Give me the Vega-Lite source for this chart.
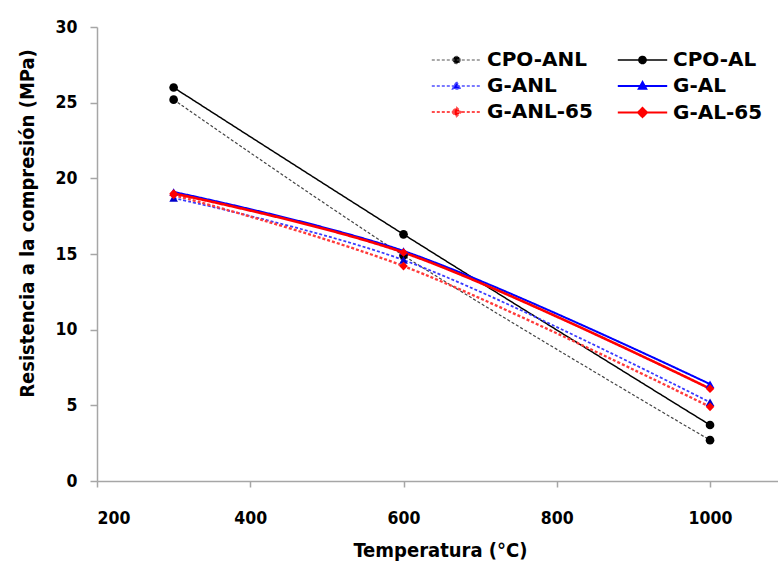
{
  "$schema": "https://vega.github.io/schema/vega-lite/v6.json",
  "autosize": {"type": "none"},
  "padding": {"left": 97, "top": 27, "right": 0, "bottom": 83},
  "width": 681,
  "height": 454,
  "background": "white",
  "config": {
    "view": {"stroke": null},
    "font": "DejaVu Sans Condensed, Liberation Sans, sans-serif",
    "axis": {
      "grid": false,
      "domainColor": "#a6a6a6",
      "tickColor": "#a6a6a6",
      "domainWidth": 1.5,
      "tickWidth": 1.5,
      "labelFont": "DejaVu Sans Condensed, Liberation Sans, sans-serif",
      "labelFontWeight": "bold",
      "labelFontSize": 17.5,
      "labelColor": "black",
      "titleFont": "DejaVu Sans Condensed, Liberation Sans, sans-serif",
      "titleFontWeight": "bold",
      "titleColor": "black"
    }
  },
  "data": {
    "values": [
      {"serie": "CPO-ANL", "t": 300, "r": 25.2},
      {"serie": "CPO-ANL", "t": 600, "r": 14.9},
      {"serie": "CPO-ANL", "t": 1000, "r": 2.7},
      {"serie": "CPO-AL", "t": 300, "r": 26.0},
      {"serie": "CPO-AL", "t": 600, "r": 16.3},
      {"serie": "CPO-AL", "t": 1000, "r": 3.7},
      {"serie": "G-ANL", "t": 300, "r": 18.7},
      {"serie": "G-ANL", "t": 600, "r": 14.6},
      {"serie": "G-ANL", "t": 1000, "r": 5.2},
      {"serie": "G-AL", "t": 300, "r": 19.1},
      {"serie": "G-AL", "t": 600, "r": 15.2},
      {"serie": "G-AL", "t": 1000, "r": 6.4},
      {"serie": "G-ANL-65", "t": 300, "r": 18.9},
      {"serie": "G-ANL-65", "t": 600, "r": 14.2},
      {"serie": "G-ANL-65", "t": 1000, "r": 4.9},
      {"serie": "G-AL-65", "t": 300, "r": 19.0},
      {"serie": "G-AL-65", "t": 600, "r": 15.1},
      {"serie": "G-AL-65", "t": 1000, "r": 6.1}
    ]
  },
  "encoding": {
    "x": {
      "field": "t", "type": "quantitative",
      "scale": {"domain": [200, 1088.7], "nice": false, "zero": false},
      "axis": {
        "values": [200, 400, 600, 800, 1000],
        "format": "d",
        "tickSize": 6,
        "labelPadding": 22,
        "title": "Temperatura (°C)",
        "titleFontSize": 20,
        "titleX": 343,
        "titleY": 59,
        "titleAlign": "center",
        "titleBaseline": "top",
        "titleAnchor": null
      }
    },
    "y": {
      "field": "r", "type": "quantitative",
      "scale": {"domain": [0, 30], "nice": false},
      "axis": {
        "values": [0, 5, 10, 15, 20, 25, 30],
        "tickSize": 7,
        "labelPadding": 13,
        "title": "Resistencia a la compresión (MPa)",
        "titleFontSize": 20,
        "titleX": -70,
        "titleY": 196,
        "titleAlign": "center",
        "titleBaseline": "middle",
        "titleAnchor": null
      }
    }
  },
  "layer": [
    {
      "mark": {"type": "line", "interpolate": "catmull-rom"},
      "encoding": {
        "color": {
          "field": "serie", "type": "nominal", "legend": null,
          "scale": {"domain": ["CPO-ANL", "CPO-AL", "G-ANL", "G-AL", "G-ANL-65", "G-AL-65"],
                    "range": ["#444444", "#000000", "#3a3aff", "#0000ff", "#ff3a3a", "#ff0000"]}
        },
        "strokeDash": {
          "field": "serie", "type": "nominal", "legend": null,
          "scale": {"domain": ["CPO-ANL", "CPO-AL", "G-ANL", "G-AL", "G-ANL-65", "G-AL-65"],
                    "range": [[3, 2], [1, 0], [3, 2], [1, 0], [3, 2], [1, 0]]}
        },
        "strokeWidth": {
          "field": "serie", "type": "nominal", "legend": null,
          "scale": {"domain": ["CPO-ANL", "CPO-AL", "G-ANL", "G-AL", "G-ANL-65", "G-AL-65"],
                    "range": [1.2, 2.6, 1.2, 3.8, 1.2, 3.2]}
        }
      }
    },
    {
      "mark": {"type": "point", "filled": true, "opacity": 1, "size": 75},
      "encoding": {
        "color": {
          "field": "serie", "type": "nominal", "legend": null,
          "scale": {"domain": ["CPO-ANL", "CPO-AL", "G-ANL", "G-AL", "G-ANL-65", "G-AL-65"],
                    "range": ["#000000", "#000000", "#0000cc", "#0000ff", "#ff0000", "#ff0000"]}
        },
        "shape": {
          "field": "serie", "type": "nominal", "legend": null,
          "scale": {"domain": ["CPO-ANL", "CPO-AL", "G-ANL", "G-AL", "G-ANL-65", "G-AL-65"],
                    "range": ["circle", "circle", "triangle-up", "triangle-up", "diamond", "diamond"]}
        }
      }
    },
    {
      "transform": [{"filter": "datum.r < -100"}],
      "mark": {"type": "point", "filled": true, "opacity": 1},
      "encoding": {
        "fill": {
          "field": "serie", "type": "nominal", "title": "s",
          "scale": {"domain": ["CPO-ANL", "CPO-AL", "G-ANL", "G-AL", "G-ANL-65", "G-AL-65"],
                    "range": ["#000000", "#000000", "#0000ff", "#0000ff", "#ff0000", "#ff0000"]},
          "legend": {
            "orient": "none", "legendX": 345, "legendY": 19, "columns": 2, "direction": "horizontal",
            "title": null, "symbolSize": 676, "labelFont": "DejaVu Sans, Liberation Sans, sans-serif",
            "labelFontWeight": "bold", "labelFontSize": 20, "labelColor": "black",
            "labelOffset": 16, "columnPadding": 20, "rowPadding": 2, "symbolOpacity": 1
          }
        },
        "stroke": {
          "field": "serie", "type": "nominal", "title": "s",
          "scale": {"domain": ["CPO-ANL", "CPO-AL", "G-ANL", "G-AL", "G-ANL-65", "G-AL-65"],
                    "range": ["#555555", "#000000", "#4d4dff", "#0000ff", "#ff4d4d", "#ff0000"]}
        },
        "strokeDash": {
          "field": "serie", "type": "nominal", "title": "s",
          "scale": {"domain": ["CPO-ANL", "CPO-AL", "G-ANL", "G-AL", "G-ANL-65", "G-AL-65"],
                    "range": [[3, 2], [1, 0], [3, 2], [1, 0], [3, 2], [1, 0]]}
        },
        "strokeWidth": {
          "field": "serie", "type": "nominal", "title": "s",
          "scale": {"domain": ["CPO-ANL", "CPO-AL", "G-ANL", "G-AL", "G-ANL-65", "G-AL-65"],
                    "range": [1.2, 2.2, 1.2, 3, 1.2, 3]}
        },
        "shape": {
          "field": "serie", "type": "nominal", "title": "s",
          "scale": {"domain": ["CPO-ANL", "CPO-AL", "G-ANL", "G-AL", "G-ANL-65", "G-AL-65"],
                    "range": [
                      "M-1.9,0H1.9M0.28,0A0.28,0.28 0 1,1 -0.28,0A0.28,0.28 0 1,1 0.28,0Z",
                      "M-1.9,0H1.9M0.28,0A0.28,0.28 0 1,1 -0.28,0A0.28,0.28 0 1,1 0.28,0Z",
                      "M-1.9,0H1.9M0,-0.32L0.3,0.22L-0.3,0.22Z",
                      "M-1.9,0H1.9M0,-0.32L0.3,0.22L-0.3,0.22Z",
                      "M-1.9,0H1.9M0,-0.34L0.34,0L0,0.34L-0.34,0Z",
                      "M-1.9,0H1.9M0,-0.34L0.34,0L0,0.34L-0.34,0Z"
                    ]}
        }
      }
    }
  ],
  "resolve": {
    "scale": {"color": "independent", "shape": "independent", "strokeDash": "independent", "strokeWidth": "independent", "fill": "independent", "stroke": "independent"}
  }
}
